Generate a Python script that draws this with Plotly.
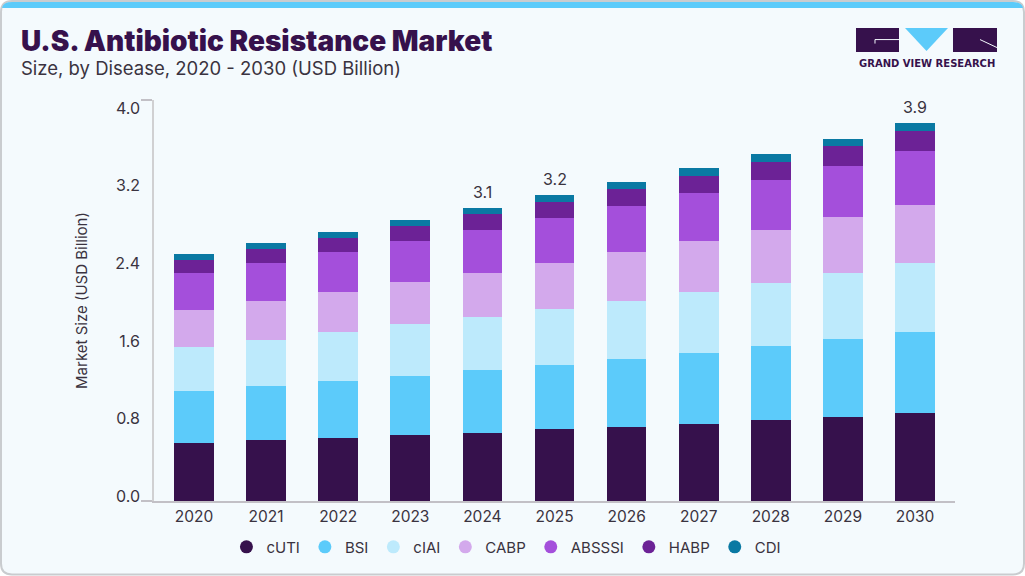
import plotly.graph_objects as go

W, H = 1025, 576
L, R, T, B = 154, 955, 100, 501.5

years = ["2020", "2021", "2022", "2023", "2024", "2025", "2026", "2027", "2028", "2029", "2030"]
cuti = [0.583, 0.613, 0.632, 0.662, 0.682, 0.722, 0.742, 0.772, 0.812, 0.842, 0.881]
bsi = [0.518, 0.538, 0.568, 0.588, 0.627, 0.637, 0.677, 0.707, 0.737, 0.777, 0.807]
ciai = [0.438, 0.458, 0.488, 0.518, 0.528, 0.558, 0.578, 0.608, 0.627, 0.657, 0.687]
cabp = [0.369, 0.388, 0.398, 0.418, 0.438, 0.458, 0.488, 0.508, 0.528, 0.558, 0.578]
absssi = [0.369, 0.378, 0.398, 0.408, 0.428, 0.448, 0.458, 0.478, 0.498, 0.508, 0.538]
habp = [0.129, 0.139, 0.139, 0.149, 0.159, 0.159, 0.169, 0.169, 0.179, 0.199, 0.199]
cdi = [0.06, 0.06, 0.06, 0.06, 0.06, 0.07, 0.07, 0.08, 0.08, 0.07, 0.08]

series_names = ["cUTI", "BSI", "cIAI", "CABP", "ABSSSI", "HABP", "CDI"]
series_values = [cuti, bsi, ciai, cabp, absssi, habp, cdi]
series_colors = ["#36114c", "#5ccbfa", "#bdeafc", "#d3a9ec", "#a44fdb", "#6c2296", "#0a79a3"]

y_tick_values = [0.0, 0.8, 1.6, 2.4, 3.2, 4.0]
y_tick_labels = ["0.0", "0.8", "1.6", "2.4", "3.2", "4.0"]
bar_labels = {"2024": "3.1", "2025": "3.2", "2030": "3.9"}

TEXT = "#3a3340"
DARK = "#36114c"
FONT = "Inter"


# page pixels to paper coordinates
def px(x):
    return (x - L) / (R - L)


def py(y):
    return (B - y) / (B - T)


def path(points):
    return "M " + " L ".join(f"{px(a):.5f},{py(b):.5f}" for a, b in points) + " Z"


fig = go.Figure()

for name, values, color in zip(series_names, series_values, series_colors):
    fig.add_trace(go.Bar(x=years, y=values, name=name, marker_color=color,
                         marker_line_width=0, width=0.55, showlegend=False))
    # dummy point so the legend gets round markers
    fig.add_trace(go.Scatter(x=[None], y=[None], name=name, mode="markers",
                             marker=dict(color=color, size=13)))

# the second y axis only carries the tick labels and has to hold a trace to be drawn
fig.add_trace(go.Scatter(x=[None], y=[None], yaxis="y2", mode="markers", showlegend=False, hoverinfo="skip"))

shapes = []
# card
shapes.append(dict(type="path", xref="paper", yref="paper", layer="below",
                   path=f"M {px(12):.5f},{py(1):.5f} L {px(1013):.5f},{py(1):.5f} "
                        f"Q {px(1024):.5f},{py(1):.5f} {px(1024):.5f},{py(12):.5f} "
                        f"L {px(1024):.5f},{py(564):.5f} "
                        f"Q {px(1024):.5f},{py(575):.5f} {px(1013):.5f},{py(575):.5f} "
                        f"L {px(12):.5f},{py(575):.5f} "
                        f"Q {px(1):.5f},{py(575):.5f} {px(1):.5f},{py(564):.5f} "
                        f"L {px(1):.5f},{py(12):.5f} "
                        f"Q {px(1):.5f},{py(1):.5f} {px(12):.5f},{py(1):.5f} Z",
                   fillcolor="#f4fafd", line=dict(color="#c9cccf", width=2)))
# blue band along the top
shapes.append(dict(type="path", xref="paper", yref="paper", layer="below",
                   path=f"M {px(2):.5f},{py(8):.5f} Q {px(3):.5f},{py(2):.5f} {px(12):.5f},{py(2):.5f} "
                        f"L {px(1013):.5f},{py(2):.5f} Q {px(1022):.5f},{py(2):.5f} {px(1023):.5f},{py(8):.5f} Z",
                   fillcolor="#5ccbfa", line=dict(width=0)))
# logo
logo_parts = [
    ([(856, 28), (899, 28), (899, 52), (856, 52)], DARK),
    ([(905, 28), (948, 28), (926.5, 51)], "#5ccbfa"),
    ([(953, 28), (997, 28), (997, 52), (953, 52)], DARK),
]
for points, color in logo_parts:
    shapes.append(dict(type="path", xref="paper", yref="paper", path=path(points),
                       fillcolor=color, line=dict(width=0)))
logo_lines = [[(875, 43.5), (875, 39.5), (899, 39.5)], [(980, 39.5), (997, 47.5)]]
for points in logo_lines:
    line_path = "M " + " L ".join(f"{px(a):.5f},{py(b):.5f}" for a, b in points)
    shapes.append(dict(type="path", xref="paper", yref="paper", path=line_path,
                       line=dict(color="#f4fafd", width=1)))


def label(x, y, text, size, color=TEXT, anchor="left", family=FONT, **kw):
    return dict(xref="paper", yref="paper", x=px(x), y=py(y), text=text, showarrow=False,
                xanchor=anchor, yanchor="middle", font=dict(family=family, size=size, color=color, **kw))


annotations = [
    label(19, 41, "U.S. Antibiotic Resistance Market", 28, DARK, weight=900),
    label(19, 68, "Size, by Disease, 2020 - 2030 (USD Billion)", 18.5),
    label(926.5, 63, "GRAND VIEW RESEARCH", 10, DARK, anchor="center", family="DejaVu Sans", weight=700),
]
for year, text in bar_labels.items():
    # category axis: position by index, a year string would be read as a number
    i = years.index(year)
    annotations.append(dict(xref="x", yref="y", x=i, y=sum(v[i] for v in series_values), text=text,
                            showarrow=False, yanchor="bottom", yshift=4,
                            font=dict(family=FONT, size=16, color=TEXT)))

fig.update_layout(
    width=W, height=H,
    margin=dict(l=L, r=W - R, t=T, b=H - B, autoexpand=False),
    barmode="stack",
    paper_bgcolor="white",
    plot_bgcolor="rgba(0,0,0,0)",
    font=dict(family=FONT, size=16, color=TEXT),
    shapes=shapes,
    annotations=annotations,
    xaxis=dict(type="category", categoryorder="array", categoryarray=years, range=[-0.555, 10.555],
               showgrid=False, zeroline=False, showline=True, linecolor="#c2c0c6", linewidth=2,
               ticks="", tickfont=dict(size=15.5), ticklabelstandoff=0),
    yaxis=dict(range=[0, 4.0], tickvals=[0, 4], showticklabels=False, showgrid=False, zeroline=False,
               showline=True, linecolor="#d0d0d2", linewidth=2,
               ticks="outside", ticklen=11, tickcolor="#c2c0c6", tickwidth=2,
               title=dict(text="Market Size (USD Billion)", font=dict(size=15), standoff=50)),
    # tick labels sit a little inside the axis ends, as in the source picture
    yaxis2=dict(overlaying="y", side="left", anchor="x", range=[-0.0466, 4.082], tickvals=y_tick_values,
                ticktext=y_tick_labels, showgrid=False, zeroline=False, showline=False, ticks="",
                tickfont=dict(size=16), ticklabelstandoff=13),
    legend=dict(orientation="h", x=0.44, xanchor="center", y=-0.115, yanchor="middle",
                bgcolor="rgba(0,0,0,0)", font=dict(size=15), traceorder="normal"),
)

fig.write_html("out.html", config=dict(displayModeBar=False),
               post_script="document.body.style.margin = '0';")
